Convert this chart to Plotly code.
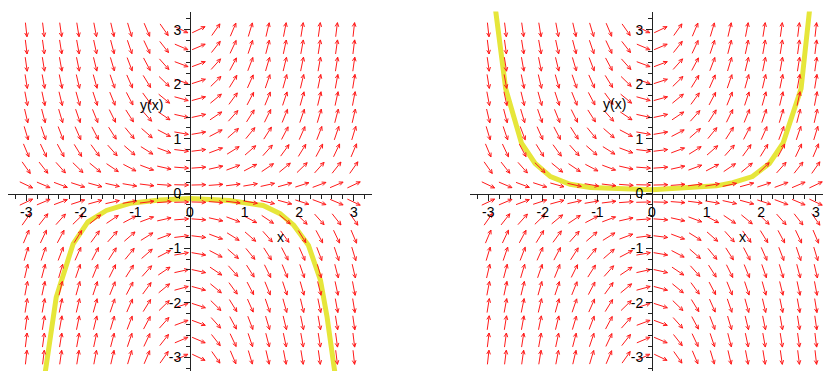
import numpy as np
import plotly.graph_objects as go

# ---- data -------------------------------------------------------------
# direction field of the ODE  y'(x) = x*y(x), sampled on a 20x20 grid
grid_x = np.linspace(-3, 3, 20)
grid_y = np.linspace(-3, 3, 20)


def slope(x, y):
    return x * y


# solution curve, left panel
left_x = [-2.67, -2.45, -2.14, -1.87, -1.53, -1.10, -0.55, 0.0, 0.73, 1.34, 1.65, 1.90, 2.17, 2.39, 2.51, 2.67]
left_y = [-3.40, -1.90, -0.92, -0.52, -0.31, -0.18, -0.12, -0.09, -0.13, -0.22, -0.37, -0.58, -0.95, -1.59, -2.26, -3.40]

# solution curve, right panel
right_x = [-2.87, -2.68, -2.39, -2.14, -1.86, -1.50, -1.13, 0.0, 1.18, 1.48, 1.84, 2.15, 2.40, 2.73, 2.89]
right_y = [3.40, 1.92, 0.92, 0.55, 0.31, 0.17, 0.11, 0.07, 0.14, 0.20, 0.31, 0.55, 0.92, 1.92, 3.40]

tick_vals = [-3, -2, -1, 0, 1, 2, 3]
tick_text = ["-3", "-2", "-1", "0", "1", "2", "3"]

# ---- geometry (page pixels; the html body adds an 8px margin) ----------
OFF = 8
PAGE_W, PAGE_H = 831, 371
W, H = PAGE_W - OFF, PAGE_H - OFF
S = 54.6                      # pixels per unit
Y0PX = 193.5 - OFF            # figure pixel row of y = 0
TOPPX = 11.5 - OFF
ARROW_LEN = 0.26
HEAD_LEN = 0.08
HEAD_ANG = np.deg2rad(25)


def arrows():
    xs, ys = [], []
    for gx in grid_x:
        for gy in grid_y:
            dx, dy = 1.0, slope(gx, gy)
            n = np.hypot(dx, dy)
            ux, uy = dx / n, dy / n
            x0, y0 = gx - ux * ARROW_LEN / 2, gy - uy * ARROW_LEN / 2
            x1, y1 = gx + ux * ARROW_LEN / 2, gy + uy * ARROW_LEN / 2
            xs += [x0, x1, None]
            ys += [y0, y1, None]
            ang = np.arctan2(uy, ux)
            for s in (1, -1):
                a = ang + np.pi + s * HEAD_ANG
                xs += [x1, x1 + HEAD_LEN * np.cos(a), None]
                ys += [y1, y1 + HEAD_LEN * np.sin(a), None]
    return xs, ys


fig = go.Figure()
ax, ay = arrows()
for cx, cy, xa, ya in [(left_x, left_y, "x", "y"), (right_x, right_y, "x2", "y2")]:
    fig.add_trace(go.Scatter(x=cx, y=cy, mode="lines", xaxis=xa, yaxis=ya,
                             line=dict(color="#e6e63a", width=5), hoverinfo="skip"))
    fig.add_trace(go.Scatter(x=ax, y=ay, mode="lines", xaxis=xa, yaxis=ya,
                             line=dict(color="#ff1a1a", width=1), hoverinfo="skip"))

font = dict(family="Liberation Sans, Arial, sans-serif", size=14, color="#000000")
yrange = [(Y0PX - H) / S, (Y0PX - TOPPX) / S]
ydom = [0, 1 - TOPPX / H]
xpos_paper = 1 - Y0PX / H


def xaxis_cfg(px0, pxl, pxr):
    px0, pxl, pxr = px0 - OFF, max(pxl - OFF, 0), min(pxr - OFF, W)
    return dict(domain=[pxl / W, pxr / W],
                range=[(pxl - px0) / S, (pxr - px0) / S],
                anchor="free", position=xpos_paper,
                showline=True, linecolor="#222222", linewidth=1,
                ticks="outside", ticklen=6, tickcolor="#222222",
                minor=dict(dtick=0.2, ticks="outside", ticklen=4, tickcolor="#222222"),
                tickvals=tick_vals, ticktext=tick_text, tickfont=font,
                showgrid=False, zeroline=False, automargin=False, fixedrange=True)


def yaxis_cfg(px0):
    return dict(domain=ydom, range=yrange, anchor="free", position=(px0 - OFF) / W,
                showline=True, linecolor="#222222", linewidth=1,
                ticks="outside", ticklen=6, tickcolor="#222222",
                minor=dict(dtick=0.2, ticks="outside", ticklen=4, tickcolor="#222222"),
                tickvals=tick_vals, ticktext=tick_text, tickfont=font,
                showgrid=False, zeroline=False, automargin=False, fixedrange=True)


fig.update_layout(
    width=W, height=H, autosize=False,
    margin=dict(l=0, r=0, t=0, b=0, pad=0),
    paper_bgcolor="white", plot_bgcolor="white",
    showlegend=False,
    xaxis=xaxis_cfg(190, 8, 372),
    yaxis=yaxis_cfg(190),
    xaxis2=xaxis_cfg(652, 470, 834),
    yaxis2=yaxis_cfg(652),
    annotations=[
        dict(x=1.65, y=-0.80, xref="x", yref="y", text="x", showarrow=False, font=font),
        dict(x=-0.70, y=1.63, xref="x", yref="y", text="y(x)", showarrow=False, font=font),
        dict(x=1.66, y=-0.79, xref="x2", yref="y2", text="x", showarrow=False, font=font),
        dict(x=-0.68, y=1.64, xref="x2", yref="y2", text="y(x)", showarrow=False, font=font),
    ],
)

fig.write_html("out.html")
